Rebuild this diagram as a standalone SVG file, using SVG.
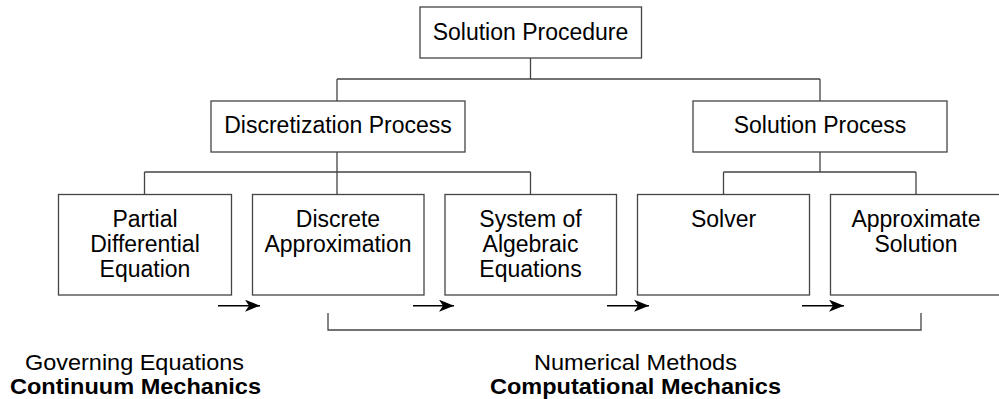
<svg xmlns="http://www.w3.org/2000/svg" width="999" height="399" viewBox="0 0 999 399">
<defs>
<style>
.box{fill:#fff;stroke:#444;stroke-width:1.3}
.ln{fill:none;stroke:#444;stroke-width:1.3}
.ar{fill:none;stroke:#000;stroke-width:1.4}
text{font-family:"Liberation Sans",Arial,sans-serif;font-size:23px;fill:#000;text-anchor:middle}
.lab{font-size:21.5px}
.b{font-weight:bold}
</style>
<marker id="ah" markerWidth="16" markerHeight="12" refX="15" refY="6" orient="auto" markerUnits="userSpaceOnUse">
<path d="M0,0 L15,6 L0,12 L4,6 Z" fill="#000"/>
</marker>
</defs>
<rect width="999" height="399" fill="#fff"/>
<g id="connectors">
<path class="ln" d="M530.5,58 V79 M337,79 H820 M337,79 V101 M820,79 V101"/>
<path class="ln" d="M337,152 V194 M144.5,172 H530.5 M144.5,172 V194 M530.5,172 V194"/>
<path class="ln" d="M820,152 V172 M723.5,172 H916 M723.5,172 V194 M916,172 V194"/>
<path class="ar" d="M218,305.7 H260" marker-end="url(#ah)"/>
<path class="ar" d="M413,305.7 H454" marker-end="url(#ah)"/>
<path class="ar" d="M607,305.7 H649" marker-end="url(#ah)"/>
<path class="ar" d="M802,305.7 H844" marker-end="url(#ah)"/>
<path class="ln" d="M328,313 V330 H921 V313"/>
</g>
<g id="solution-procedure">
<rect class="box" x="420" y="7" width="221.5" height="51"/>
<text x="530.5" y="40">Solution Procedure</text>
</g>
<g id="discretization-process">
<rect class="box" x="211" y="101" width="254" height="51"/>
<text x="338" y="133">Discretization Process</text>
</g>
<g id="solution-process">
<rect class="box" x="693" y="101" width="254" height="51"/>
<text x="820" y="133">Solution Process</text>
</g>
<g id="pde">
<rect class="box" x="58.5" y="194.5" width="173" height="100.5"/>
<text x="145" y="226.5">Partial</text>
<text x="145" y="251.5">Differential</text>
<text x="145" y="276.5">Equation</text>
</g>
<g id="discrete-approximation">
<rect class="box" x="252.5" y="194.5" width="171.5" height="100.5"/>
<text x="338" y="226.5">Discrete</text>
<text x="338" y="251.5">Approximation</text>
</g>
<g id="system-of-algebraic-equations">
<rect class="box" x="445" y="194.5" width="171.5" height="100.5"/>
<text x="530.5" y="226.5">System of</text>
<text x="530.5" y="251.5">Algebraic</text>
<text x="530.5" y="276.5">Equations</text>
</g>
<g id="solver">
<rect class="box" x="637.5" y="194.5" width="172" height="100.5"/>
<text x="723.5" y="226.5">Solver</text>
</g>
<g id="approximate-solution">
<rect class="box" x="830.5" y="194.5" width="172" height="100.5"/>
<text x="916" y="226.5">Approximate</text>
<text x="916" y="251.5">Solution</text>
</g>
<g id="continuum-label">
<text class="lab" x="134.5" y="369.5" textLength="219" lengthAdjust="spacingAndGlyphs">Governing Equations</text>
<text class="lab b" x="135.5" y="393.5" textLength="251" lengthAdjust="spacingAndGlyphs">Continuum Mechanics</text>
</g>
<g id="computational-label">
<text class="lab" x="635.5" y="369.5" textLength="203" lengthAdjust="spacingAndGlyphs">Numerical Methods</text>
<text class="lab b" x="635.5" y="393.5" textLength="291" lengthAdjust="spacingAndGlyphs">Computational Mechanics</text>
</g>
</svg>
